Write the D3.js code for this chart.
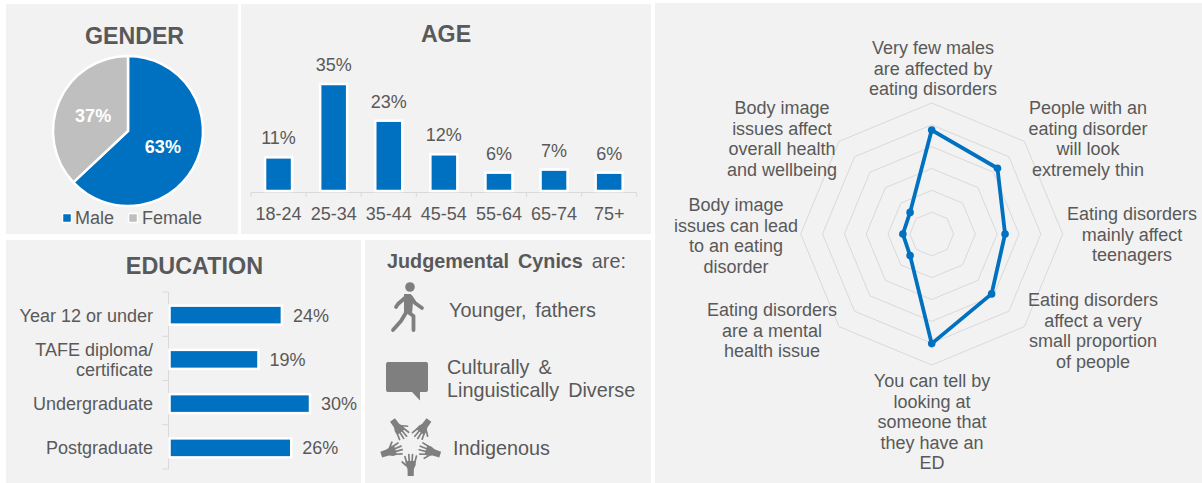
<!DOCTYPE html>
<html><head><meta charset="utf-8">
<script src="https://cdn.jsdelivr.net/npm/d3@7"></script>
<style>html,body{margin:0;padding:0;background:#fff}svg{display:block}text{font-family:"Liberation Sans",Arial,sans-serif;fill:#595959}</style>
</head><body><svg id="c" width="1202" height="483"></svg>
<script>
const genderLabels=["Male","Female"];
const genderValues=[63,37];
const ageLabels=["18-24","25-34","35-44","45-54","55-64","65-74","75+"];
const ageValues=[11,35,23,12,6,7,6];
const eduLabels=[["Year 12 or under"],["TAFE diploma/","certificate"],["Undergraduate"],["Postgraduate"]];
const eduValues=[24,19,30,26];
const radarLabels=[
 ["Very few males","are affected by","eating disorders"],
 ["People with an","eating disorder","will look","extremely thin"],
 ["Eating disorders","mainly affect","teenagers"],
 ["Eating disorders","affect a very","small proportion","of people"],
 ["You can tell by","looking at","someone that","they have an","ED"],
 ["Eating disorders","are a mental","health issue"],
 ["Body image","issues can lead","to an eating","disorder"],
 ["Body image","issues affect","overall health","and wellbeing"]];
const radarValues=[23.8,21.3,16.8,19.4,25.1,7,6.6,7];
const radarTicks=[5,10,15,20,25,30];
const BLUE="#0070c0",GREY="#bfbfbf",PANEL="#f2f2f2",TXT="#595959",AX="#d9d9d9";
const FS=18;
const svg=d3.select("#c");
[[6,4,232,230],[241,4,410,230],[6,240,355,243],[365,240,286,243],[655,3,547,480]].forEach(p=>
 svg.append("rect").attr("x",p[0]).attr("y",p[1]).attr("width",p[2]).attr("height",p[3]).attr("fill",PANEL));
function txt(x,y,s,o={}){return svg.append("text").attr("x",x).attr("y",y).attr("text-anchor",o.a||"middle")
 .attr("font-size",o.size||FS).attr("font-weight",o.w||400).style("fill",o.fill||TXT).text(s);}

// Gender
txt(134.5,44,"GENDER",{size:23.2,w:700});
const pieG=svg.append("g").attr("transform","translate(128,131)");
const arc=d3.arc().innerRadius(0).outerRadius(75);
const pie=d3.pie().sort(null)(genderValues);
pieG.selectAll("path").data(pie).join("path").attr("d",arc).attr("fill",(d,i)=>[BLUE,GREY][i]).attr("stroke","#fff").attr("stroke-width",2.5);
const labArc=d3.arc().innerRadius(38).outerRadius(38);
pieG.selectAll("text").data(pie).join("text").attr("text-anchor","middle").attr("font-size",FS).attr("font-weight",700)
 .style("fill","#fff").attr("transform",d=>`translate(${labArc.centroid(d)})`).attr("dy",6.5).text(d=>d.value+"%");
[[67,75],[133,142]].forEach((p,i)=>{
 svg.append("rect").attr("x",p[0]-4.5).attr("y",213.5).attr("width",9).attr("height",9).attr("fill",[BLUE,GREY][i]).attr("stroke","#fff").attr("stroke-width",1.5);
 txt(p[1],224,genderLabels[i],{a:"start"});
});

// Age
txt(446,42,"AGE",{size:23.2,w:700});
const ax=d3.scaleBand().domain(ageLabels).range([251,636.7]).paddingInner(.51).paddingOuter(.255);
const ay=d3.scaleLinear().domain([0,35]).range([191,84]);
svg.append("line").attr("x1",251).attr("x2",636.7).attr("y1",192.5).attr("y2",192.5).attr("stroke",AX);
d3.range(8).forEach(i=>{const x=251+i*(636.7-251)/7;svg.append("line").attr("x1",x).attr("x2",x).attr("y1",192.5).attr("y2",197).attr("stroke",AX);});
svg.append("g").selectAll("rect").data(ageValues).join("rect").attr("x",(d,i)=>ax(ageLabels[i])).attr("y",d=>ay(d))
 .attr("width",ax.bandwidth()).attr("height",d=>ay(0)-ay(d)).attr("fill",BLUE).attr("stroke","#fff").attr("stroke-width",2.5);
ageValues.forEach((d,i)=>txt(ax(ageLabels[i])+ax.bandwidth()/2,ay(d)-13,d+"%"));
ageLabels.forEach(l=>txt(ax(l)+ax.bandwidth()/2,220,l));

// Education
txt(194.5,274,"EDUCATION",{size:23.4,w:700});
const ey=d3.scaleBand().domain(d3.range(4)).range([293,470]).paddingInner(.57).paddingOuter(.285);
const ex=d3.scaleLinear().domain([0,30]).range([169.5,310]);
svg.append("line").attr("x1",168.5).attr("x2",168.5).attr("y1",292).attr("y2",469).attr("stroke",AX);
d3.range(5).forEach(i=>{const y=292+i*44.25;svg.append("line").attr("x1",162).attr("x2",168.5).attr("y1",y).attr("y2",y).attr("stroke",AX);});
svg.append("g").selectAll("rect").data(eduValues).join("rect").attr("x",ex(0)).attr("y",(d,i)=>ey(i)).attr("width",d=>ex(d)-ex(0))
 .attr("height",ey.bandwidth()).attr("fill",BLUE).attr("stroke","#fff").attr("stroke-width",2.5);
eduValues.forEach((d,i)=>{
 const cy=ey(i)+ey.bandwidth()/2;
 txt(ex(d)+11,cy+6.5,d+"%",{a:"start"});
 const ls=eduLabels[i];
 ls.forEach((l,j)=>txt(153,cy+6.5+(j-(ls.length-1)/2)*20.5,l,{a:"end"}));
});

// Cynics
const cyn=txt(387,268,"",{a:"start",size:19.8}).style("word-spacing","3.5px");
cyn.append("tspan").attr("font-weight",700).text("Judgemental Cynics");
cyn.append("tspan").text(" are:");
const ic="#7f7f7f",CS=19.8;
const w=svg.append("g").attr("transform","translate(365,240)");
// walker
w.append("circle").attr("cx",45).attr("cy",47).attr("r",4.8).attr("fill",ic);
w.append("path").attr("d","M41 57 L33 64 L31 67 M46 57 L50 63 L57 68 M42 71 L36 81 L28 90 M43 72 L48.5 76 L48.5 90")
 .attr("fill","none").attr("stroke",ic).attr("stroke-width",3.8).attr("stroke-linecap","round").attr("stroke-linejoin","round");
w.append("path").attr("d","M39 54 L46 54 L48 62 L47 74 L39 74 Z").attr("fill",ic);
txt(449,317,"Younger, fathers",{a:"start",size:CS}).style("word-spacing","3.5px");
// bubble
w.append("path").attr("d","M23 122 H61 Q63 122 63 124 V150 Q63 152 61 152 H55 V160.5 L47 152 H23 Q21 152 21 150 V124 Q21 122 23 122 Z").attr("fill",ic);
txt(447,374,"Culturally &",{a:"start",size:CS}).style("word-spacing","3.5px");
txt(447,397,"Linguistically Diverse",{a:"start",size:CS}).style("word-spacing","3.5px");
// hands: wrists outward, fingers toward the centre
[36,108,180,252,324].forEach(a=>{
 const h=w.append("g").attr("transform",`translate(45.7,205) rotate(${a})`);
 h.append("path").attr("d","M-3 -31 L3 -31 L3.2 -24 L5 -20 L5 -16 L-5 -16 L-5 -20 L-3.2 -24 Z").attr("fill",ic);
 h.append("path").attr("d","M-4.2 -17 L-5.8 -11 M-1.4 -17 L-1.8 -9.5 M1.4 -17 L1.9 -9.5 M4.2 -17 L5.8 -11.5 M4.5 -20.5 L8.5 -17")
  .attr("fill","none").attr("stroke",ic).attr("stroke-width",1.7).attr("stroke-linecap","round");
});
txt(453,455,"Indigenous",{a:"start",size:CS});

// Radar
const cx=931.7,cy=234;
const rr=d3.scaleLinear().domain([0,30]).range([0,131]);
const ang=d3.scalePoint().domain(d3.range(8)).range([0,Math.PI*7/4]);
const radial=d3.lineRadial().angle((d,i)=>ang(i)).radius(d=>rr(d)).curve(d3.curveLinearClosed);
const rad=svg.append("g").attr("transform",`translate(${cx},${cy})`);
radarTicks.forEach(t=>rad.append("path").attr("d",radial(d3.range(8).map(()=>t))).attr("fill","none").attr("stroke",AX).attr("stroke-width",1));
rad.append("path").attr("d",radial(radarValues)).attr("fill","none").attr("stroke",BLUE).attr("stroke-width",3.8).attr("stroke-linejoin","round");
rad.selectAll("circle").data(radarValues).join("circle").attr("r",3.8).attr("fill",BLUE)
 .attr("cx",(d,i)=>rr(d)*Math.sin(ang(i))).attr("cy",(d,i)=>-rr(d)*Math.cos(ang(i)));
const labelPos=[[933,54],[1088,114],[1132,220],[1093,306],[932,387],[772,316],[736,211],[782,114]];
radarLabels.forEach((ls,i)=>ls.forEach((l,j)=>txt(labelPos[i][0],labelPos[i][1]+j*20.5,l)));
</script></body></html>
